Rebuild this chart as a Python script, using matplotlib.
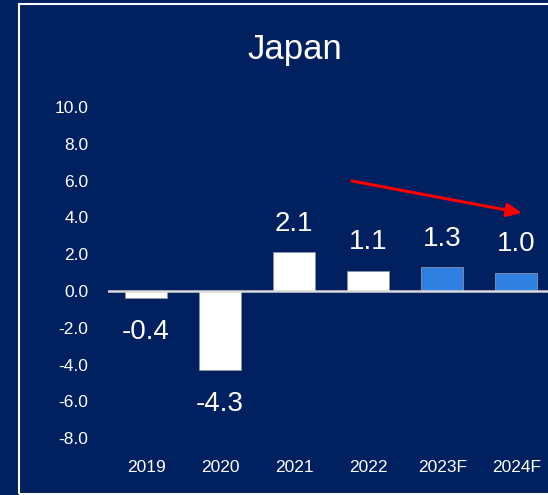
import matplotlib.pyplot as plt
from matplotlib.patches import Rectangle
from matplotlib import font_manager

years = ['2019', '2020', '2021', '2022', '2023F', '2024F']
growth = [-0.4, -4.3, 2.1, 1.1, 1.3, 1.0]
forecast = [False, False, False, False, True, True]
yticks = [10, 8, 6, 4, 2, 0, -2, -4, -6, -8]

names = {f.name for f in font_manager.fontManager.ttflist}
fam = 'Liberation Sans Narrow' if 'Liberation Sans Narrow' in names else 'Liberation Sans'
plt.rcParams['font.family'] = [fam, 'DejaVu Sans']

navy = '#002060'
blue = '#2f80e0'

fig = plt.figure(figsize=(5.48, 4.95), dpi=100, facecolor=navy)
ax = fig.add_axes([108/548, 45/495, 440/548, 350/495])
ax.set_facecolor(navy)

colors = [blue if f else 'white' for f in forecast]
x = range(len(years))
ax.bar(x, growth, width=0.56, color=colors, edgecolor='#8a94a8', linewidth=0.6, zorder=2)
ax.axhline(0, color='#d9d9d9', lw=1.8, zorder=3)

for i, v in enumerate(growth):
    if v >= 0:
        ax.annotate(f'{v:.1f}', (i, v), xytext=(0, 11), textcoords='offset points',
                    ha='center', va='bottom', color='white', fontsize=20)
    else:
        ax.annotate(f'{v:.1f}', (i, v), xytext=(0, -15), textcoords='offset points',
                    ha='center', va='top', color='white', fontsize=20)

# trend arrow over the forecast years
ax.annotate('', xy=(5.08, 4.24), xytext=(2.78, 5.98),
            arrowprops=dict(arrowstyle='-|>,head_length=0.9,head_width=0.4',
                            color='#ff0000', lw=2.2, shrinkA=0, shrinkB=0))

ax.set_xlim(-0.514, 5.43)
ax.set_ylim(-8.64, 10.38)
ax.set_xticks(list(x))
ax.set_xticklabels(years)
ax.set_yticks(yticks)
ax.set_yticklabels([f'{t:.1f}' for t in yticks])
ax.tick_params(length=0, colors='white', labelsize=12.5)
ax.tick_params(axis='y', pad=14)
ax.tick_params(axis='x', pad=7)
for s in ax.spines.values():
    s.set_visible(False)

fig.text(295/548, 1 - 49/495, 'Japan', ha='center', va='center', color='white', fontsize=25)

fig.patches.append(Rectangle((19/548, 1/495), 1, 490/495, transform=fig.transFigure,
                             fill=False, edgecolor='white', lw=1.5))

fig.savefig('out.png', dpi=100, facecolor=navy)
